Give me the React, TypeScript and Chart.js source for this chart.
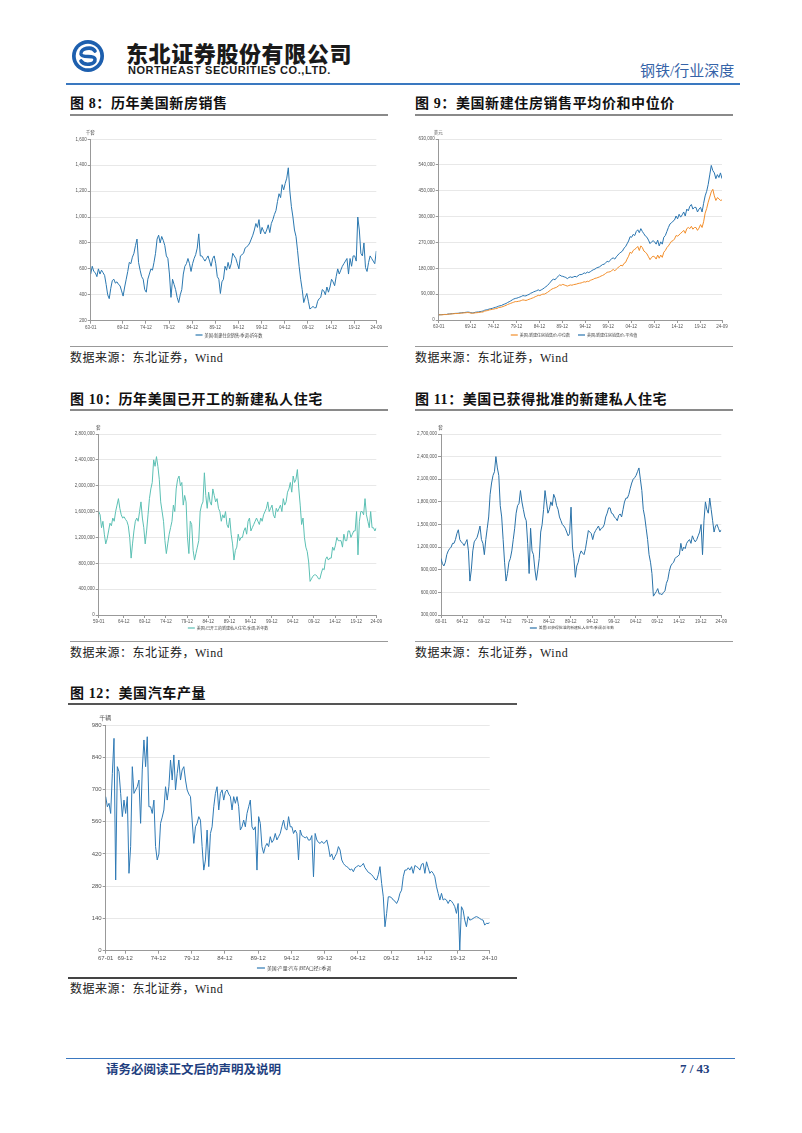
import React, { useEffect, useRef } from "react";
import { Chart, registerables } from "chart.js";
Chart.register(...registerables);

// ---------- 图8 历年美国新房销售 (千套, 每4个月取值, 自1963-01) ----------
const salesStart = "63-01";
const salesStep = 4;
const newHomeSales = [
  560, 620, 580, 570, 540, 600, 560, 590, 570, 550, 480, 400, 370, 450, 510,
  520, 490, 500, 480, 470, 430, 390, 460, 520, 580, 650, 640, 690, 720, 780,
  830, 650, 590, 540, 520, 440, 420, 520, 560, 600, 590, 650, 720, 830, 860,
  800, 850, 820, 780, 700, 680, 560, 380, 520, 480, 440, 380, 340, 400, 440,
  560, 620, 640, 680, 640, 580, 640, 680, 710, 760, 870, 700, 700, 680, 660,
  680, 700, 660, 620, 680, 700, 640, 540, 520, 410, 500, 520, 620, 590, 650,
  600, 640, 720, 700, 680, 640, 600, 700, 710, 720, 760, 770, 780, 800, 830,
  860, 900, 950, 920, 980, 870, 920, 890, 870, 900, 940, 880, 950, 980, 1020,
  1050, 1120, 1180, 1150, 1250, 1210, 1260, 1300, 1380, 1200, 1080, 1000, 900, 850, 740,
  620, 520, 440, 340, 380, 410, 350, 290, 300, 310, 300, 300, 350, 370, 380,
  440, 430, 400, 460, 420, 460, 520, 500, 470, 540, 600, 560, 590, 620, 640,
  660, 680, 560, 680, 620, 700, 700, 660, 1000, 900, 720, 700, 800, 610, 580,
  650, 700, 680, 660, 640, 738,
];
const salesXLabels = ["63-01", "69-12", "74-12", "79-12", "84-12", "89-12", "94-12", "99-12", "04-12", "09-12", "14-12", "19-12", "24-09"];
const salesYTicks = [200, 400, 600, 800, 1000, 1200, 1400, 1600];

// ---------- 图9 新建住房销售价 (千美元, 每4个月, 自1963-01) ----------
const priceStart = "63-01";
const priceStep = 4;
const medianPrice = [
  18, 18, 18.2, 18.6, 19, 18.9, 20, 20.5, 21, 21.5, 22, 22.5, 22.5, 23, 23.5,
  24, 24.5, 25, 25.5, 26, 25.5, 24, 23.5, 24, 25, 25.5, 26, 27, 27.5, 28,
  31, 32, 33, 35, 36, 37, 38, 39.5, 40, 43, 44, 45, 47, 49, 51,
  54, 56, 58, 60, 62, 64, 64, 65, 66, 68, 70, 69, 68, 70, 72,
  74, 76, 78, 81, 83, 86, 85, 88, 90, 90, 93, 96, 100, 104, 108,
  110, 112, 114, 118, 122, 121, 124, 122, 120, 118, 120, 122, 121, 123, 124,
  125, 127, 128, 129, 131, 133, 132, 135, 134, 138, 140, 142, 145, 146, 148,
  150, 153, 155, 158, 162, 166, 167, 168, 172, 176, 171, 177, 182, 186, 191,
  188, 197, 200, 212, 222, 236, 232, 242, 246, 250, 256, 242, 258, 252, 240,
  236, 230, 220, 210, 218, 222, 220, 212, 226, 215, 226, 218, 236, 242, 252,
  258, 266, 274, 276, 282, 294, 292, 296, 302, 306, 312, 302, 318, 322, 318,
  326, 316, 322, 322, 312, 320, 332, 322, 342, 372, 388, 410, 428, 446, 455,
  432, 416, 426, 422, 416, 418,
];
const averagePrice = [
  18.2, 18.4, 18.5, 19, 19.4, 19.3, 20.6, 21.1, 21.6, 22.1, 22.6, 23.1, 23.2, 23.7, 24.6,
  25.2, 25.7, 26.2, 27, 27.6, 27, 25.2, 24.8, 25.3, 27, 27.6, 28.2, 29.2, 30.2, 31.2,
  34, 35.2, 36.3, 38.2, 39.3, 40.5, 42.5, 44, 45.5, 48, 49.5, 50.5, 53.5, 55.5, 57.5,
  61, 63.5, 66.5, 70, 73, 75, 76, 78, 80, 82, 85, 84, 84, 87, 89,
  93, 95, 98, 100, 102, 105, 102, 105, 108, 112, 116, 120, 126, 132, 139,
  142, 140, 147, 152, 157, 153, 152, 150, 148, 144, 148, 150, 148, 150, 152,
  150, 154, 158, 158, 160, 164, 162, 167, 165, 168, 172, 175, 177, 181, 183,
  185, 189, 193, 194, 199, 204, 202, 208, 214, 216, 212, 220, 226, 232, 236,
  240, 250, 255, 265, 275, 290, 288, 298, 294, 308, 314, 304, 318, 308, 300,
  292, 288, 278, 266, 272, 276, 272, 264, 278, 258, 272, 264, 288, 294, 308,
  322, 334, 338, 344, 348, 362, 352, 368, 358, 366, 376, 362, 386, 380, 396,
  402, 386, 392, 392, 376, 386, 392, 376, 406, 432, 448, 472, 505, 538, 520,
  512, 492, 506, 496, 512, 492,
];
const priceXLabels = ["63-01", "69-12", "74-12", "79-12", "84-12", "89-12", "94-12", "99-12", "04-12", "09-12", "14-12", "19-12", "24-09"];
const priceYTicks = [0, 90000, 180000, 270000, 360000, 450000, 540000, 630000];

// ---------- 图10 已开工新建私人住宅 (千套, 每4个月, 自1959-01) ----------
const startsStart = "59-01";
const startsStep = 4;
const housingStarts = [
  1600, 1550, 1350, 1450, 1250, 1100, 1180, 1300, 1420, 1380, 1500, 1450, 1600, 1700, 1800,
  1650, 1550, 1500, 1520, 1480, 1450, 1380, 1200, 880, 1100, 1300, 1450, 1500, 1450, 1600,
  1750, 1500, 1350, 1100, 1300, 1550, 1800, 1950, 2050, 2400, 2300, 2450, 2300, 2100, 1750,
  1600, 1450, 1150, 950, 1100, 1250, 1350, 1450, 1700, 1600, 1950, 2100, 2150, 2000, 2050,
  1700, 1850, 1750, 1200, 950, 1450, 1400, 1000, 850, 950, 1050, 1150, 1600, 1700, 1750,
  2200, 1850, 1650, 1900, 1750, 1700, 1950, 1850, 1750, 1800, 1650, 1600, 1450, 1550, 1500,
  1600, 1400, 1350, 1500, 1250, 1100, 850, 1000, 1050, 1250, 1150, 1200, 1200, 1300, 1350,
  1250, 1450, 1500, 1300, 1350, 1400, 1450, 1500, 1450, 1400, 1500, 1450, 1550, 1600, 1650,
  1750, 1600, 1650, 1700, 1550, 1500, 1650, 1600, 1650, 1700, 1600, 1800, 1700, 1750, 1900,
  1950, 2050, 1900, 2150, 2050, 2100, 2250, 1950, 1700, 1400, 1500, 1200, 1050, 980, 820,
  520, 560, 600, 620, 620, 600, 560, 560, 650, 720, 700, 860, 900, 850, 880,
  880, 1050, 1000, 1080, 1200, 1150, 1150, 1150, 1050, 1250, 1150, 1150, 1300, 1300, 1200,
  1250, 1300, 1300, 1600, 930, 1450, 1600, 1600, 1550, 1800, 1550, 1450, 1350, 1600, 1350,
  1350, 1300, 1350,
];
const startsXLabels = ["59-01", "64-12", "69-12", "74-12", "79-12", "84-12", "89-12", "94-12", "99-12", "04-12", "09-12", "14-12", "19-12", "24-09"];
const startsYTicks = [0, 400000, 800000, 1200000, 1600000, 2000000, 2400000, 2800000];

// ---------- 图11 已获批准新建私人住宅 (千套, 每4个月, 自1960-01) ----------
const permitsStart = "60-01";
const permitsStep = 4;
const housingPermits = [
  1050, 980, 950, 1000, 1100, 1150, 1180, 1200, 1250, 1250, 1300, 1380, 1430, 1300, 1270,
  1250, 1220, 1260, 1300, 1150, 750, 900, 1150, 1270, 1300, 1330, 1400, 1480, 1300, 1250,
  1100, 1300, 1450, 1600, 1900, 2050, 2150, 2200, 2400, 2250, 2150, 1750, 1600, 1300, 1000,
  750, 850, 1000, 1050, 1150, 1300, 1450, 1650, 1750, 1780, 1950, 1800, 1700, 1600, 1550,
  1250, 850, 1450, 1150, 1100, 900, 760, 900, 1050, 1400, 1500, 1700, 1950, 1800, 1650,
  1700, 1800, 1750, 1900, 1850, 1750, 1700, 1600, 1550, 1500, 1480, 1450, 1400, 1350, 1380,
  1730, 1200, 1050, 800, 950, 1000, 1100, 1150, 1120, 1100, 1180, 1300, 1420, 1400, 1380,
  1300, 1380, 1420, 1450, 1480, 1420, 1450, 1460, 1500, 1600, 1650, 1720, 1720, 1650, 1640,
  1600, 1580, 1550, 1620, 1640, 1600, 1700, 1800, 1850, 1850, 1900, 1980, 2050, 2100, 2120,
  2150, 2200, 2250, 2100, 1950, 1700, 1600, 1450, 1300, 1100, 1000, 850, 550, 580, 610,
  650, 580, 580, 570, 600, 620, 720, 770, 880, 950, 980, 1000, 1050, 1070, 1080,
  1100, 1250, 1150, 1200, 1180, 1250, 1280, 1300, 1250, 1350, 1300, 1270, 1300, 1350, 1400,
  1500, 1100, 1550, 1800, 1700, 1650, 1850, 1700, 1550, 1400, 1480, 1500, 1450, 1400, 1430,
];
const permitsXLabels = ["60-01", "64-12", "69-12", "74-12", "79-12", "84-12", "89-12", "94-12", "99-12", "04-12", "09-12", "14-12", "19-12", "24-09"];
const permitsYTicks = [300000, 600000, 900000, 1200000, 1500000, 1800000, 2100000, 2400000, 2700000];

// ---------- 图12 美国汽车产量 (千辆, 季度, 自1967-01) ----------
const autoStart = "67-01";
const autoStep = 3;
const autoOutput = [
  669, 625, 640, 596, 770, 922, 307, 799, 777, 683, 582, 654, 596, 669, 336, 452,
  799, 683, 698, 712, 741, 553, 785, 915, 799, 929, 625, 625, 596, 654, 452, 394,
  420, 553, 580, 611, 712, 654, 712, 828, 741, 850, 698, 770, 828, 741, 785, 799,
  741, 698, 680, 669, 567, 466, 538, 553, 582, 567, 452, 350, 394, 524, 365, 509,
  538, 625, 683, 712, 611, 683, 698, 654, 690, 698, 680, 669, 611, 669, 640, 669,
  625, 524, 538, 567, 538, 596, 625, 654, 538, 524, 538, 350, 582, 553, 452, 423,
  452, 466, 452, 495, 470, 481, 509, 481, 495, 509, 540, 567, 530, 524, 582, 538,
  538, 509, 524, 509, 394, 524, 500, 495, 490, 495, 480, 481, 500, 321, 509, 481,
  470, 466, 475, 466, 470, 481, 450, 408, 420, 394, 410, 423, 452, 437, 394, 379,
  370, 365, 360, 350, 355, 343, 360, 365, 370, 365, 370, 379, 360, 350, 340, 336,
  330, 321, 310, 307, 330, 365, 292, 234, 104, 162, 234, 234, 230, 220, 215, 205,
  220, 249, 263, 321, 350, 350, 360, 350, 365, 336, 370, 365, 360, 350, 375, 379,
  336, 386, 360, 336, 345, 336, 321, 278, 249, 220, 249, 220, 225, 220, 205, 220,
  215, 205, 191, 162, 205, 3, 191, 176, 133, 104, 148, 133, 135, 140, 145, 148,
  145, 140, 135, 133, 111, 119, 118, 122,
];
const autoXLabels = ["67-01", "69-12", "74-12", "79-12", "84-12", "89-12", "94-12", "99-12", "04-12", "09-12", "14-12", "19-12", "24-10"];
const autoYTicks = [0, 140, 280, 420, 560, 700, 840, 980];

// ---------------------------------------------------------------------------
const CJK = '"Noto Sans CJK SC", "Noto Sans", sans-serif';
const TICK_FONT = '"Liberation Sans", Arial, sans-serif';

function monthOf(label: string): number {
  const [yy, mm] = label.split("-").map(Number);
  const y = yy >= 50 ? 1900 + yy : 2000 + yy;
  return y * 12 + (mm - 1);
}

type Series = { label: string; values: number[]; color: string; mult: number };
type Cfg = {
  start: string;
  step: number;
  series: Series[];
  xLabels: string[];
  yTicks: number[];
  unit: string;
  box: [number, number, number, number];
  plot: [number, number, number, number];
  font: number;
  legendFont: number;
  legendDy: number;
  legendCx: number;
  lineLen: number;
};

function LineChart({ cfg }: { cfg: Cfg }) {
  const ref = useRef<HTMLCanvasElement>(null);
  const [cx, cy, cw, ch] = cfg.box;
  useEffect(() => {
    const [L, T, R, B] = cfg.plot;
    const xH = 10;
    const s0 = monthOf(cfg.start);
    const xTickVals = cfg.xLabels.map(monthOf);
    const yT = cfg.yTicks;
    const overlay = {
      id: "overlay",
      afterDraw(chart: any) {
        const ctx = chart.ctx as CanvasRenderingContext2D;
        const a = chart.chartArea;
        ctx.save();
        // unit
        ctx.fillStyle = "#555";
        ctx.font = `${cfg.font}px ${CJK}`;
        ctx.textAlign = "center";
        ctx.textBaseline = "middle";
        ctx.fillText(cfg.unit, a.left - 0.5, a.top - 7);
        // legend
        ctx.font = `${cfg.legendFont}px ${CJK}`;
        ctx.textAlign = "left";
        const gap = 2;
        const itemGap = 8;
        const widths = cfg.series.map((s) => cfg.lineLen + gap + ctx.measureText(s.label).width);
        const total = widths.reduce((p, c) => p + c, 0) + itemGap * (widths.length - 1);
        let x = cfg.legendCx - cx - total / 2;
        const y = a.bottom + cfg.legendDy;
        cfg.series.forEach((s, i) => {
          ctx.strokeStyle = s.color;
          ctx.lineWidth = 1.2;
          ctx.beginPath();
          ctx.moveTo(x, y);
          ctx.lineTo(x + cfg.lineLen, y);
          ctx.stroke();
          ctx.fillStyle = "#444";
          ctx.fillText(s.label, x + cfg.lineLen + gap, y);
          x += widths[i] + itemGap;
        });
        ctx.restore();
      },
    };
    const chart = new Chart(ref.current as HTMLCanvasElement, {
      type: "line",
      data: {
        datasets: cfg.series.map((s) => ({
          label: s.label,
          data: s.values.map((v, i) => ({ x: s0 + i * cfg.step, y: v * s.mult })),
          borderColor: s.color,
          backgroundColor: s.color,
          borderWidth: 1,
          pointRadius: 0,
          fill: false,
          tension: 0,
        })),
      },
      options: {
        animation: false,
        responsive: false,
        maintainAspectRatio: false,
        layout: {
          padding: { left: 0, top: T - cy, right: cx + cw - R, bottom: cy + ch - B - xH },
        },
        plugins: { legend: { display: false }, tooltip: { enabled: false } },
        scales: {
          x: {
            type: "linear",
            min: xTickVals[0],
            max: xTickVals[xTickVals.length - 1],
            afterBuildTicks: (sc: any) => {
              sc.ticks = xTickVals.map((v) => ({ value: v }));
            },
            afterFit: (sc: any) => {
              sc.height = xH;
            },
            ticks: {
              autoSkip: false,
              maxRotation: 0,
              minRotation: 0,
              padding: 1,
              color: "#555",
              font: { size: cfg.font, family: TICK_FONT },
              callback: (_v: any, i: number) => cfg.xLabels[i],
            },
            grid: { drawOnChartArea: false, tickLength: 3, tickColor: "#999" },
            border: { color: "#999", width: 1 },
          },
          y: {
            type: "linear",
            min: yT[0],
            max: yT[yT.length - 1],
            afterBuildTicks: (sc: any) => {
              sc.ticks = yT.map((v) => ({ value: v }));
            },
            afterFit: (sc: any) => {
              sc.width = L - cx;
            },
            ticks: {
              padding: 1,
              color: "#555",
              font: { size: cfg.font, family: TICK_FONT },
              callback: (v: any) => Number(v).toLocaleString("en-US"),
            },
            grid: { color: "#e8e8e8", tickLength: 3, tickColor: "#999" },
            border: { color: "#999", width: 1 },
          },
        },
      } as any,
      plugins: [overlay],
    });
    return () => chart.destroy();
  }, []);
  return (
    <canvas
      ref={ref}
      width={cw}
      height={ch}
      style={{ position: "absolute", left: cx, top: cy, width: cw, height: ch }}
    />
  );
}

const chart8: Cfg = {
  start: salesStart,
  step: salesStep,
  series: [{ label: "美国:新建住房销售:季调:折年数", values: newHomeSales, color: "#2b78b0", mult: 1 }],
  xLabels: salesXLabels,
  yTicks: salesYTicks,
  unit: "千套",
  box: [68, 126, 320, 216],
  plot: [90.7, 139.3, 376.3, 320.7],
  font: 4.5,
  legendFont: 4.2,
  legendDy: 14.3,
  legendCx: 229,
  lineLen: 7,
};
const chart9: Cfg = {
  start: priceStart,
  step: priceStep,
  series: [
    { label: "美国:新建住房销售价:中位数", values: medianPrice, color: "#f28e2b", mult: 1000 },
    { label: "美国:新建住房销售价:平均值", values: averagePrice, color: "#2a75b0", mult: 1000 },
  ],
  xLabels: priceXLabels,
  yTicks: priceYTicks,
  unit: "美元",
  box: [413, 126, 321, 216],
  plot: [438.7, 139, 722, 320],
  font: 4.5,
  legendFont: 4,
  legendDy: 15,
  legendCx: 574,
  lineLen: 7,
};
const chart10: Cfg = {
  start: startsStart,
  step: startsStep,
  series: [{ label: "美国:已开工的新建私人住宅:季调:折年数", values: housingStarts, color: "#5cc0b4", mult: 1000 }],
  xLabels: startsXLabels,
  yTicks: startsYTicks,
  unit: "套",
  box: [68, 421, 320, 216],
  plot: [98.7, 434, 376.3, 615],
  font: 4.5,
  legendFont: 4,
  legendDy: 13,
  legendCx: 228,
  lineLen: 7,
};
const chart11: Cfg = {
  start: permitsStart,
  step: permitsStep,
  series: [{ label: "美国:已获得批准的新建私人住宅:季调:折年数", values: housingPermits, color: "#2a72a8", mult: 1000 }],
  xLabels: permitsXLabels,
  yTicks: permitsYTicks,
  unit: "套",
  box: [413, 421, 321, 216],
  plot: [441, 434, 721.3, 615],
  font: 4.5,
  legendFont: 3.8,
  legendDy: 13,
  legendCx: 572,
  lineLen: 7,
};
const chart12: Cfg = {
  start: autoStart,
  step: autoStep,
  series: [{ label: "美国:产量:汽车(BEA口径):季调", values: autoOutput, color: "#2f7ab5", mult: 1 }],
  xLabels: autoXLabels,
  yTicks: autoYTicks,
  unit: "千辆",
  box: [70, 711, 440, 264],
  plot: [105.7, 725, 489.7, 950.7],
  font: 6,
  legendFont: 4.8,
  legendDy: 17.3,
  legendCx: 294,
  lineLen: 8,
};

const titleStyle = (left: number, top: number): React.CSSProperties => ({
  position: "absolute",
  left,
  top,
  fontFamily: `"Liberation Serif", ${CJK}`,
  fontWeight: 700,
  fontSize: 14,
  lineHeight: "14px",
  color: "#111",
  whiteSpace: "nowrap",
  letterSpacing: 0.6,
});
const srcStyle = (left: number, top: number): React.CSSProperties => ({
  position: "absolute",
  left,
  top,
  fontFamily: `"Liberation Serif", ${CJK}`,
  fontSize: 12,
  lineHeight: "12px",
  color: "#222",
  whiteSpace: "nowrap",
  letterSpacing: 0.5,
});
const hline = (left: number, top: number, width: number, h: number, color: string): React.CSSProperties => ({
  position: "absolute",
  left,
  top,
  width,
  height: h,
  background: color,
});

export default function App() {
  return (
    <div
      style={{
        position: "absolute",
        left: 0,
        top: 0,
        width: 802,
        height: 1133,
        background: "#fff",
        overflow: "hidden",
      }}
    >
      {/* header */}
      <svg style={{ position: "absolute", left: 71, top: 39 }} width={34} height={34} viewBox="-17 -17 34 34">
        <circle r={16} fill="#1d5fae" />
        <circle r={12.3} fill="#fff" />
        <path
          d="M 7 -5 C 4 -10, -8 -8, -7 -2 C -6 3, 6 -2, 7 3 C 8 9, -4 10, -7 5"
          stroke="#1d5fae"
          strokeWidth={3.6}
          fill="none"
          strokeLinecap="round"
        />
      </svg>
      <div
        style={{
          position: "absolute",
          left: 126,
          top: 40,
          fontFamily: CJK,
          fontWeight: 900,
          fontSize: 22,
          lineHeight: "24px",
          letterSpacing: 0.6,
          color: "#1a1a1a",
          whiteSpace: "nowrap",
        }}
      >
        东北证券股份有限公司
      </div>
      <div
        style={{
          position: "absolute",
          left: 128,
          top: 64,
          fontFamily: '"Liberation Sans", Arial, sans-serif',
          fontWeight: 700,
          fontSize: 11,
          lineHeight: "13px",
          letterSpacing: 0.55,
          color: "#1a1a1a",
          whiteSpace: "nowrap",
        }}
      >
        NORTHEAST SECURITIES CO.,LTD.
      </div>
      <div
        style={{
          position: "absolute",
          left: 640,
          top: 63,
          fontFamily: `"Liberation Serif", ${CJK}`,
          fontSize: 15,
          lineHeight: "17px",
          color: "#3563a8",
          whiteSpace: "nowrap",
        }}
      >
        钢铁/行业深度
      </div>
      <div style={hline(66, 83, 674, 1.5, "#3a78c0")} />

      {/* titles */}
      <div style={titleStyle(70, 97)}>图 8：历年美国新房销售</div>
      <div style={hline(70, 114, 318, 2, "#8a8a8a")} />
      <div style={titleStyle(415, 97)}>图 9：美国新建住房销售平均价和中位价</div>
      <div style={hline(415, 114, 318, 2, "#8a8a8a")} />
      <div style={titleStyle(70, 393)}>图 10：历年美国已开工的新建私人住宅</div>
      <div style={hline(70, 409, 318, 2, "#8a8a8a")} />
      <div style={titleStyle(415, 393)}>图 11：美国已获得批准的新建私人住宅</div>
      <div style={hline(415, 409, 318, 2, "#8a8a8a")} />
      <div style={titleStyle(70, 687)}>图 12：美国汽车产量</div>
      <div style={hline(68, 703, 449, 2, "#555")} />

      {/* charts */}
      <LineChart cfg={chart8} />
      <LineChart cfg={chart9} />
      <LineChart cfg={chart10} />
      <LineChart cfg={chart11} />
      <LineChart cfg={chart12} />

      {/* source lines */}
      <div style={hline(70, 346, 318, 1, "#999")} />
      <div style={hline(415, 346, 318, 1, "#999")} />
      <div style={hline(70, 641, 318, 1, "#999")} />
      <div style={hline(415, 641, 318, 1, "#999")} />
      <div style={hline(68, 977, 449, 1.5, "#444")} />
      <div style={srcStyle(70, 352)}>数据来源：东北证券，Wind</div>
      <div style={srcStyle(415, 352)}>数据来源：东北证券，Wind</div>
      <div style={srcStyle(70, 647)}>数据来源：东北证券，Wind</div>
      <div style={srcStyle(415, 647)}>数据来源：东北证券，Wind</div>
      <div style={srcStyle(70, 983)}>数据来源：东北证券，Wind</div>

      {/* footer */}
      <div style={hline(66, 1058, 669, 1.2, "#3a78c0")} />
      <div
        style={{
          position: "absolute",
          left: 106,
          top: 1062,
          fontFamily: CJK,
          fontWeight: 700,
          fontSize: 12.5,
          lineHeight: "14px",
          color: "#1f3f7f",
          whiteSpace: "nowrap",
        }}
      >
        请务必阅读正文后的声明及说明
      </div>
      <div
        style={{
          position: "absolute",
          left: 680,
          top: 1062,
          fontFamily: '"Liberation Serif", serif',
          fontWeight: 700,
          fontSize: 13,
          lineHeight: "14px",
          color: "#1f3f7f",
          whiteSpace: "nowrap",
        }}
      >
        7 / 43
      </div>
    </div>
  );
}
